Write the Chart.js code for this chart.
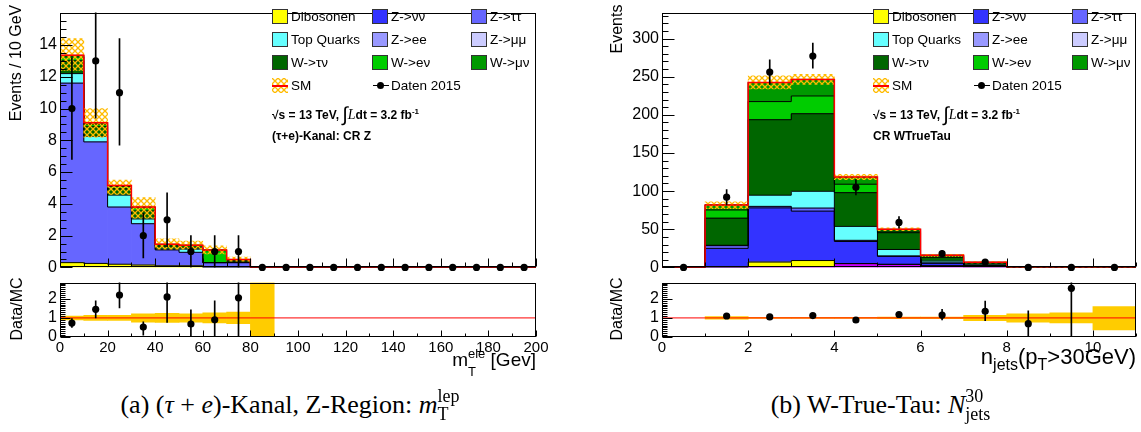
<!DOCTYPE html>
<html><head><meta charset="utf-8">
<script src="https://cdn.jsdelivr.net/npm/chart.js@4.4.1/dist/chart.umd.min.js"></script>
<style>
html,body{margin:0;padding:0;background:#fff;}
body{width:1141px;height:432px;position:relative;overflow:hidden;font-family:"Liberation Sans",Arial,sans-serif;color:#000;}
canvas{position:absolute;}
.abs{position:absolute;white-space:nowrap;}
.rot{transform:translate(-50%,-50%) rotate(-90deg);font-size:16px;line-height:16px;}
.ss{position:relative;}
.sup{position:relative;}
.sub{position:absolute;left:0;}
.legtxt{position:absolute;font-size:13.5px;line-height:15px;white-space:nowrap;}
.box{position:absolute;width:14px;height:13px;border:1px solid #333;}
.info{position:absolute;font-size:12px;font-weight:bold;line-height:14px;white-space:nowrap;}
.cap{position:absolute;font-family:"Liberation Serif","Times New Roman",serif;font-size:26px;line-height:26px;white-space:nowrap;transform:translateX(-50%);}
.cap .sup{font-size:18px;top:-11px;}
.cap .sub{font-size:18px;top:11px;}
</style></head><body>
<canvas id="lm" width="560" height="280" style="left:0;top:0"></canvas>
<canvas id="lr" width="560" height="100" style="left:0;top:270px"></canvas>
<canvas id="rm" width="541" height="280" style="left:600px;top:0"></canvas>
<canvas id="rr" width="541" height="100" style="left:600px;top:270px"></canvas>

<div class="abs rot" style="left:16px;top:63px">Events / 10 GeV</div>
<div class="abs rot" style="left:17px;top:309px">Data/MC</div>
<div class="abs rot" style="left:617px;top:29px">Events</div>
<div class="abs rot" style="left:617px;top:309px">Data/MC</div>

<div class="abs" style="right:605px;top:350px;font-size:19px;line-height:19px">m<span class="ss"><span class="sup" style="font-size:13px;top:-8px">ele</span><span class="sub" style="font-size:13px;top:13px">T</span></span> [Gev]</div>
<div class="abs" style="right:5px;top:346px;font-size:22px;line-height:22px">n<span class="sup" style="font-size:16px;top:6px">jets</span>(p<span class="sup" style="font-size:16px;top:6px">T</span>&gt;30GeV)</div>

<div class="info" style="left:272px;top:105px">√s = 13 TeV, <span style="font-size:20px;font-weight:normal;position:relative;top:2px">∫</span><span style="font-family:'Liberation Serif';font-style:italic;font-weight:normal;font-size:14px">L</span>dt = 3.2 fb<sup style="font-size:8px">-1</sup></div>
<div class="info" style="left:272px;top:129px">(τ+e)-Kanal: CR Z</div>
<div class="info" style="left:873px;top:105px">√s = 13 TeV, <span style="font-size:20px;font-weight:normal;position:relative;top:2px">∫</span><span style="font-family:'Liberation Serif';font-style:italic;font-weight:normal;font-size:14px">L</span>dt = 3.2 fb<sup style="font-size:8px">-1</sup></div>
<div class="info" style="left:873px;top:129px">CR WTrueTau</div>

<div class="cap" style="left:290px;top:392px">(a) (<i>τ</i> + <i>e</i>)-Kanal, Z-Region: <i>m</i><span class="ss"><span class="sup">lep</span><span class="sub">T</span></span></div>
<div class="cap" style="left:877px;top:392px">(b) W-True-Tau: <i>N</i><span class="ss"><span class="sup">30</span><span class="sub">jets</span></span></div>

<script>
// ================= DATA =================
// Left panel: (tau+e)-Kanal, CR Z, m_T^ele [GeV], 10 GeV bins
const leftCenters = [5,15,25,35,45,55,65,75,85,95,105,115,125,135,145,155,165,175,185,195];
const leftEdges   = [0,10,20,30,40,50,60,70,80,90,100,110,120,130,140,150,160,170,180,190,200];
const leftDiboson = [0.3,0.25,0.2,0.15,0.1,0.1,0,0,0,0,0,0,0,0,0,0,0,0,0,0];
const leftZtautau = [11.3,7.65,3.6,2.6,1.0,0.85,0.3,0.3,0,0,0,0,0,0,0,0,0,0,0,0];
const leftTop     = [0.6,0.35,0.75,0.3,0.05,0.2,0,0,0,0,0,0,0,0,0,0,0,0,0,0];
const leftWtaunu  = [0.8,0.6,0.4,0.5,0.2,0.1,0,0.05,0,0,0,0,0,0,0,0,0,0,0,0];
const leftWenu    = [0.25,0.15,0.15,0.2,0.1,0.1,0.75,0.1,0,0,0,0,0,0,0,0,0,0,0,0];
const leftWmunu   = [0.1,0.1,0.05,0.05,0,0.05,0.05,0.05,0,0,0,0,0,0,0,0,0,0,0,0];
const leftSMLow   = [12.4,8.2,4.6,3.1,1.15,1.15,0.85,0.4];
const leftSMHigh  = [14.4,10.0,5.5,4.4,1.8,1.65,1.35,0.65];
const leftData    = [10,13,11,2,3,1,1,1,0,0,0,0,0,0,0,0,0,0,0,0];
const leftDataLow = [6.8,9.4,7.7,0.6,1.3,0,0,0];
const leftDataHigh= [13.2,16.6,14.4,3.4,4.7,2.0,2.0,2.0];
const leftRatio     = [0.73,1.45,2.2,0.52,2.1,0.68,0.9,2.05];
const leftRatioLow  = [0.5,1.0,1.53,0.1,0.77,0,0,0];
const leftRatioHigh = [0.97,1.9,2.87,0.8,2.87,1.42,1.9,2.87];
const leftBandLow   = [0.9,0.87,0.87,0.78,0.76,0.78,0.74,0.7,0];
const leftBandHigh  = [1.1,1.13,1.13,1.22,1.24,1.22,1.26,1.3,2.85];

// Right panel: W-True-Tau, n_jets (pT>30 GeV)
const rightCenters = [0.5,1.5,2.5,3.5,4.5,5.5,6.5,7.5,8.5,9.5,10.5];
const rightEdges   = [0,1,2,3,4,5,6,7,8,9,10,11];
const rightOther   = [0,0.5,1,1,5,4,2,1,0.3,0.3,0.3];
const rightDiboson = [0,0,6,8,0,0,0,0,0,0,0];
const rightZnunu   = [0,24.5,71,64.75,29,10.5,3.5,1.5,0,0,0];
const rightZtautau = [0,3.5,2,4,1.5,0.5,0.3,0,0,0,0];
const rightTop     = [0,0.5,14.6,22,18.25,8.5,2.5,0.8,0,0,0];
const rightWtaunu  = [0,35.5,99,101.7,44.2,22,5,2.5,0.2,0.2,0.2];
const rightWenu    = [0,10.8,23.75,23.3,11.1,2,1.5,0.5,0,0,0];
const rightWmunu   = [0,6.6,25,21.7,9.3,2.5,1.2,0.5,0,0,0];
const rightSMLow   = [null,77,234,240,115,48,14.5,6,0.2,0.2,0.2];
const rightSMHigh  = [null,86,251,253,122,52,17,7.5,0.8,0.8,0.8];
const rightData    = [0,92,256,277,105,59,18,7,0,0,0];
const rightDataLow = [null,82,240,261,95,51.5,13.8,4.5];
const rightDataHigh= [null,102,272,294,115,66.5,22.2,9.6];
const rightRatio     = [null,1.1,1.05,1.12,0.89,1.18,1.15,1.35,0.7,2.55];
const rightRatioLow  = [null,1.04,1.0,1.06,0.82,1.06,0.9,0.85,0,0];
const rightRatioHigh = [null,1.17,1.11,1.19,0.97,1.31,1.45,1.88,1.37,2.9];
const rightBandLow   = [null,0.93,0.97,0.97,0.97,0.96,0.96,0.86,0.78,0.74,0.37];
const rightBandHigh  = [null,1.07,1.03,1.03,1.03,1.04,1.04,1.14,1.22,1.26,1.6];

// ================= STYLE =================
const COL = {dib:'#ffff00', top:'#66ffff', wtau:'#006600', znn:'#3333ff', zee:'#9999ff',
             wen:'#00cc00', ztt:'#6666ff', zmm:'#ccccff', wmu:'#009900', other:'#cc00ff'};

Chart.defaults.font.family = "'Liberation Sans', Arial, sans-serif";
Chart.defaults.font.size = 16;
Chart.defaults.color = '#000';

function makeHatch(){
  const c = document.createElement('canvas'); c.width = 6; c.height = 6;
  const g = c.getContext('2d');
  g.strokeStyle = '#ffbb00'; g.lineWidth = 1.3;
  g.beginPath(); g.moveTo(0,0); g.lineTo(6,6); g.moveTo(6,0); g.lineTo(0,6); g.stroke();
  return c;
}
const hatchCanvas = makeHatch();
const hatch = document.createElement('canvas').getContext('2d').createPattern(hatchCanvas,'repeat');

const frameTicks = {
  id:'frameTicks',
  afterDatasetsDraw(chart, args, o){
    const {ctx, chartArea:a, scales:{x,y}} = chart;
    ctx.save();
    ctx.strokeStyle = '#000'; ctx.lineWidth = 1;
    const L = Math.round(a.left)+0.5, R = Math.round(a.right)-0.5, T = Math.round(a.top)+0.5, B = Math.round(a.bottom)-0.5;
    const steps = (min,max,st)=>{const n=Math.floor((max-min)/st+1e-6); const r=[]; for(let i=0;i<=n;i++) r.push(min+i*st); return r;};
    const isMaj = (v,m)=>Math.abs(v/m-Math.round(v/m))<1e-6;
    ctx.beginPath();
    for (const v of steps(y.min,y.max,o.yMinor)){
      const py = Math.round(y.getPixelForValue(v))+0.5;
      ctx.moveTo(L,py); ctx.lineTo(L+(isMaj(v,o.yMajor)?o.yMajorLen:o.yMinorLen),py);
    }
    for (const v of steps(x.min,x.max,o.xMinor)){
      const px = Math.round(x.getPixelForValue(v))+0.5;
      ctx.moveTo(px,B); ctx.lineTo(px,B-(isMaj(v,o.xMajor)?o.xMajorLen:o.xMinorLen));
    }
    ctx.stroke();
    ctx.strokeRect(L,T,R-L,B-T);
    ctx.restore();
  }
};

function barDS(centers, lo, hi, color, extra){
  return Object.assign({type:'bar',
    data: centers.map((c,i)=> (lo[i]!=null && hi[i]!=null && hi[i]>lo[i]) ? {x:c,y:[lo[i],hi[i]]} : {x:c,y:null}),
    backgroundColor:color, borderWidth:0, grouped:false, barPercentage:1, categoryPercentage:1}, extra);
}

function stepLine(edges, centers, vals, color, width, extra){
  const line = [{x:edges[0], y:0}];
  centers.forEach((c,i)=>line.push({x:edges[i], y:vals[i]}));
  line.push({x:edges[edges.length-1], y:vals[vals.length-1]}, {x:edges[edges.length-1], y:0});
  return Object.assign({type:'line', data:line, stepped:true, borderColor:color, borderWidth:width, pointRadius:0, fill:false}, extra);
}

function mainDatasets(centers, edges, comps, smLow, smHigh, data, dLow, dHigh){
  const ds = [];
  const cum = centers.map(()=>0);
  comps.forEach(([vals,color],k)=>{
    ds.push({type:'bar', data: centers.map((c,i)=>({x:c, y: vals[i]>0 ? vals[i] : null})),
      backgroundColor:color, borderWidth:0, stack:'mc', order:6,
      grouped:false, barPercentage:1, categoryPercentage:1});
    vals.forEach((v,i)=>{cum[i]+= (v||0);});
    ds.push(stepLine(edges, centers, cum.slice(), '#000', 1, {stack:'outline'+k, order:5}));
  });
  ds.push(barDS(centers, smLow, smHigh, hatch, {stack:'band', order:4}));
  ds.push(stepLine(edges, centers, cum.slice(), '#ff0000', 1.5, {stack:'tot', order:3}));
  ds.push(barDS(centers, dLow, dHigh, '#000', {stack:'err', order:2, barThickness:1}));
  ds.push({type:'line', data: centers.map((c,i)=>({x:c, y: data[i]==null?null:data[i]})), showLine:false,
    pointRadius:3.6, pointBackgroundColor:'#000', pointBorderWidth:0, stack:'pts', order:1, clip:false});
  return ds;
}

function ratioDatasets(centers, xmin, xmax, bLow, bHigh, r, rLow, rHigh){
  return [
    barDS(centers, bLow, bHigh, '#ffcc00', {stack:'band', order:4}),
    {type:'line', data:[{x:xmin,y:1},{x:xmax,y:1}], borderColor:'#ff0000', borderWidth:1, pointRadius:0, stack:'one', order:3},
    barDS(centers, rLow, rHigh, '#000', {stack:'err', order:2, barThickness:1}),
    {type:'line', data: centers.map((c,i)=>({x:c, y: r[i]==null?null:r[i]})), showLine:false,
      pointRadius:3.6, pointBackgroundColor:'#000', pointBorderWidth:0, stack:'pts', order:1}
  ];
}

function makeChart(id, o){
  return new Chart(document.getElementById(id), {
    type:'bar',
    data:{datasets:o.datasets},
    options:{
      responsive:false, animation:false, events:[],
      layout:{padding:{top:o.padTop, right:o.padRight, left:0, bottom:0}},
      plugins:{legend:{display:false}, tooltip:{enabled:false}, frameTicks:o.ticks},
      scales:{
        x:{type:'linear', min:o.xmin, max:o.xmax, offset:false,
           grid:{display:false, drawTicks:false}, border:{display:false},
           ticks:{display:o.xLabels, stepSize:o.xStep, padding:2, maxRotation:0, autoSkip:false, includeBounds:false, font:{size:15}},
           afterFit:(s)=>{s.height=o.xHeight;}},
        y:{type:'linear', stacked:true, min:o.ymin, max:o.ymax,
           grid:{display:false, drawTicks:false}, border:{display:false},
           ticks:{stepSize:o.yStep, padding:3, includeBounds:false, autoSkip:false, font:{size:16},
                  callback:(v)=> (v>o.yLabelMax+1e-9) ? '' : String(v)},
           afterFit:(s)=>{s.width=o.yWidth;}}
      }
    },
    plugins:[frameTicks]
  });
}

// ---- left main ----
makeChart('lm', {
  datasets: mainDatasets(leftCenters, leftEdges,
    [[leftDiboson,COL.dib],[leftZtautau,COL.ztt],[leftTop,COL.top],[leftWtaunu,COL.wtau],[leftWenu,COL.wen],[leftWmunu,COL.wmu]],
    leftSMLow, leftSMHigh, leftData, leftDataLow, leftDataHigh),
  padTop:5, padRight:24, xmin:0, xmax:200, xStep:20, xLabels:false, xHeight:8,
  ymin:0, ymax:16.04, yStep:2, yLabelMax:14, yWidth:60,
  ticks:{xMinor:10, xMajor:20, xMajorLen:8, xMinorLen:4, yMinor:0.5, yMajor:2, yMajorLen:12, yMinorLen:6}
});
// ---- left ratio ----
makeChart('lr', {
  datasets: ratioDatasets(leftCenters, 0, 200, leftBandLow, leftBandHigh, leftRatio, leftRatioLow, leftRatioHigh),
  padTop:8, padRight:24, xmin:0, xmax:200, xStep:20, xLabels:true, xHeight:33,
  ymin:0, ymax:2.85, yStep:1, yLabelMax:2, yWidth:60,
  ticks:{xMinor:10, xMajor:20, xMajorLen:6, xMinorLen:3, yMinor:0.1, yMajor:1, yMajorLen:10, yMinorLen:5}
});
// ---- right main ----
makeChart('rm', {
  datasets: mainDatasets(rightCenters, rightEdges,
    [[rightOther,COL.other],[rightDiboson,COL.dib],[rightZnunu,COL.znn],[rightZtautau,COL.ztt],[rightTop,COL.top],[rightWtaunu,COL.wtau],[rightWenu,COL.wen],[rightWmunu,COL.wmu]],
    rightSMLow, rightSMHigh, rightData, rightDataLow, rightDataHigh),
  padTop:5, padRight:5, xmin:0, xmax:11, xStep:2, xLabels:false, xHeight:8,
  ymin:0, ymax:334, yStep:50, yLabelMax:300, yWidth:62,
  ticks:{xMinor:1, xMajor:2, xMajorLen:8, xMinorLen:4, yMinor:10, yMajor:50, yMajorLen:12, yMinorLen:6}
});
// ---- right ratio ----
makeChart('rr', {
  datasets: ratioDatasets(rightCenters, 0, 11, rightBandLow, rightBandHigh, rightRatio, rightRatioLow, rightRatioHigh),
  padTop:8, padRight:5, xmin:0, xmax:11, xStep:2, xLabels:true, xHeight:33,
  ymin:0, ymax:2.85, yStep:1, yLabelMax:2, yWidth:62,
  ticks:{xMinor:1, xMajor:2, xMajorLen:6, xMinorLen:3, yMinor:0.1, yMajor:1, yMajorLen:10, yMinorLen:5}
});

// ================= LEGENDS =================
const legendRows = [
  [['Dibosonen',COL.dib],['Z->νν',COL.znn],['Z->ττ',COL.ztt]],
  [['Top Quarks',COL.top],['Z->ee',COL.zee],['Z->μμ',COL.zmm]],
  [['W->τν',COL.wtau],['W->eν',COL.wen],['W->μν',COL.wmu]]
];
const hatchURL = hatchCanvas.toDataURL();
function buildLegend(x0){
  const colX = [0,100,199], rowY = [9,32,55,78];
  const add = (html)=>document.body.insertAdjacentHTML('beforeend', html);
  legendRows.forEach((row,r)=>row.forEach(([lab,col],c)=>{
    add(`<div class="box" style="left:${x0+colX[c]}px;top:${rowY[r]}px;background:${col}"></div>`);
    add(`<div class="legtxt" style="left:${x0+colX[c]+19}px;top:${rowY[r]}px">${lab}</div>`);
  }));
  add(`<div class="abs" style="left:${x0}px;top:${rowY[3]}px;width:16px;height:15px;background-image:url(${hatchURL})"></div>`);
  add(`<div class="abs" style="left:${x0}px;top:${rowY[3]+7}px;width:16px;height:2px;background:#ff0000"></div>`);
  add(`<div class="legtxt" style="left:${x0+19}px;top:${rowY[3]}px">SM</div>`);
  add(`<div class="abs" style="left:${x0+colX[1]+1}px;top:${rowY[3]+7}px;width:16px;height:1px;background:#000"></div>`);
  add(`<div class="abs" style="left:${x0+colX[1]+5}px;top:${rowY[3]+4}px;width:7px;height:7px;border-radius:50%;background:#000"></div>`);
  add(`<div class="legtxt" style="left:${x0+colX[1]+19}px;top:${rowY[3]}px">Daten 2015</div>`);
}
buildLegend(272);
buildLegend(873);
</script>
</body></html>
